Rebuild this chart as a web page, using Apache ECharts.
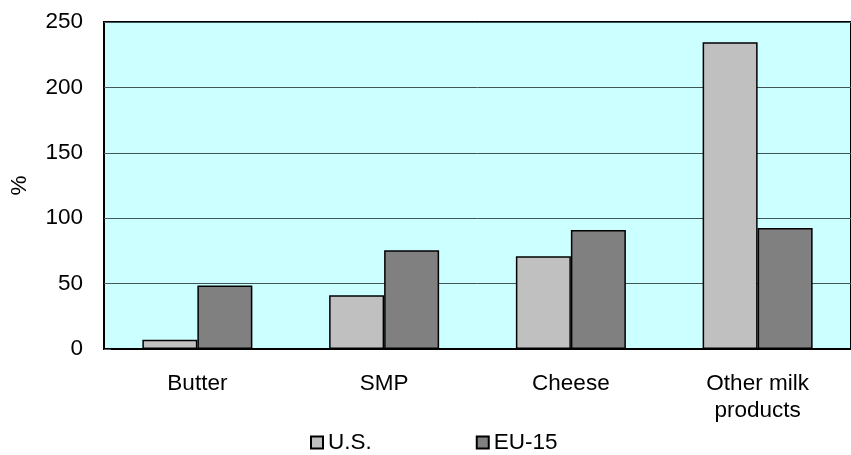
<!DOCTYPE html>
<html>
<head>
<meta charset="utf-8">
<script src="https://cdn.jsdelivr.net/npm/echarts@6/dist/echarts.min.js"></script>
<style>
  html,body{margin:0;padding:0;background:#fff;}
  #chart{width:851px;height:455px;}
</style>
</head>
<body>
<div id="chart"></div>
<script>
var categories = ['Butter', 'SMP', 'Cheese', 'Other milk\nproducts'];
var usValues = [7, 41, 71, 234.5];
var euValues = [48.5, 75.5, 91, 92.5];
var yTicks = { min: 0, max: 250, interval: 50 };

var font = 'Liberation Sans, Arial, sans-serif';
var fs = 22.5;

var chart = echarts.init(document.getElementById('chart'));
chart.setOption({
    animation: false,
    textStyle: { fontFamily: font },
    grid: {
        left: 104,
        top: 22,
        width: 757,
        height: 327,
        show: true,
        backgroundColor: '#ccffff',
        borderColor: '#000',
        borderWidth: 2
    },
    legend: {
        left: 305,
        top: 426,
        itemWidth: 12,
        itemHeight: 12,
        itemGap: 104,
        icon: 'rect',
        textStyle: { fontSize: fs, color: '#000', fontFamily: font },
        data: ['U.S.', 'EU-15']
    },
    xAxis: {
        type: 'category',
        data: categories,
        axisLine: { lineStyle: { color: '#000', width: 2 } },
        axisTick: { show: false },
        axisLabel: {
            fontSize: fs,
            color: '#000',
            margin: 21,
            lineHeight: 27,
            fontFamily: font
        }
    },
    yAxis: {
        type: 'value',
        min: yTicks.min,
        max: yTicks.max,
        interval: yTicks.interval,
        name: '%',
        nameLocation: 'middle',
        nameGap: 73,
        nameRotate: 90,
        nameTextStyle: { fontSize: fs, color: '#000', fontFamily: font },
        axisLine: { show: true, lineStyle: { color: '#000', width: 2 } },
        axisTick: { show: true, inside: true, length: 7, lineStyle: { color: '#556' } },
        axisLabel: { fontSize: fs, color: '#000', margin: 21, fontFamily: font },
        splitLine: { lineStyle: { color: '#3f5555', width: 1 } }
    },
    series: [
        {
            name: 'U.S.',
            type: 'bar',
            data: usValues,
            barWidth: 55,
            barGap: '0%',
            itemStyle: { color: '#c0c0c0', borderColor: '#000', borderWidth: 1.5 }
        },
        {
            name: 'EU-15',
            type: 'bar',
            data: euValues,
            barWidth: 55,
            barGap: '0%',
            itemStyle: { color: '#808080', borderColor: '#000', borderWidth: 1.5 }
        }
    ]
});
</script>
</body>
</html>
